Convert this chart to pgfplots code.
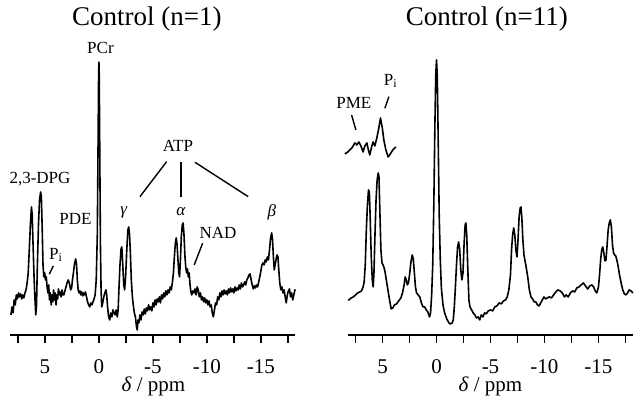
\documentclass[border=0pt]{standalone}
\usepackage{pgfplots}
\pgfplotsset{compat=1.18}
\usepackage{fontspec}
\setmainfont{Liberation Serif}

% one picture pixel = 0.5pt
\pgfplotsset{
  spec/.style={
    scale only axis, width=142.56pt, height=167.5pt,
    xmin=-18.2, xmax=8.2, ymin=0, ymax=335,
    x dir=reverse,
    axis x line=bottom, axis y line=none,
    axis line style={line width=1pt,-},
    xtick={-15,-10,-5,0,5},
    minor xtick={-17.5,-12.5,-7.5,-2.5,2.5,7.5},
    tick align=outside,
    major tick length=4pt, minor tick length=4pt,
    every tick/.style={black, line width=0.8pt},
    ticklabel style={font=\fontsize{10.5}{12}\selectfont},
    xticklabel style={yshift=-5pt},
    /pgf/number format/assume math mode=true,
    clip=false,
  },
  trace/.style={black, line width=0.8pt, line join=round},
}

\begin{document}
\begin{tikzpicture}
\begin{scope}[x=0.5pt,y=-0.5pt]
\useasboundingbox (0,0) rectangle (634,402);
\end{scope}

% ---- Control (n=1)
\begin{axis}[spec, at={(5.2pt,-167.5pt)}, anchor=south west]
\addplot[trace] coordinates {
(8.15,20) (8.05,28) (7.95,22) (7.85,35) (7.75,30) (7.65,40) (7.55,36) (7.45,42)
(7.35,38) (7.25,41) (7.15,36) (7.05,40) (6.95,37) (6.85,42) (6.75,45) (6.65,52)
(6.55,62) (6.45,85) (6.35,110) (6.25,128) (6.18,120) (6.1,90) (6.0,55) (5.92,35)
(5.85,20) (5.78,30) (5.7,70) (5.6,110) (5.5,135) (5.4,143) (5.33,138) (5.25,105)
(5.18,70) (5.1,58) (5.02,62) (4.95,55) (4.88,58) (4.8,48) (4.72,42) (4.65,50)
(4.58,35) (4.5,42) (4.42,30) (4.35,40) (4.27,33) (4.2,45) (4.12,35) (4.05,42)
(3.97,30) (3.9,40) (3.82,36) (3.75,46) (3.67,40) (3.6,43) (3.5,38) (3.42,45)
(3.35,40) (3.25,40) (3.15,44) (3.05,48) (2.95,52) (2.85,55) (2.78,53) (2.7,50)
(2.62,45) (2.53,47) (2.45,55) (2.35,63) (2.25,72) (2.15,76) (2.07,70) (2.0,55)
(1.92,45) (1.85,42) (1.76,44) (1.68,40) (1.6,43) (1.5,39) (1.42,42) (1.33,40)
(1.25,43) (1.15,38) (1.05,33) (0.95,30) (0.85,28) (0.75,32) (0.65,30) (0.55,33)
(0.45,36) (0.35,40) (0.25,55) (0.15,100) (0.08,190) (0.03,260) (0.0,273)
(-0.03,260) (-0.08,180) (-0.14,90) (-0.2,45) (-0.26,28) (-0.35,32) (-0.45,38)
(-0.55,42) (-0.65,45) (-0.72,40) (-0.8,28) (-0.9,18) (-1.0,15) (-1.1,22) (-1.2,18)
(-1.3,25) (-1.4,22) (-1.5,20) (-1.6,25) (-1.7,18) (-1.78,25) (-1.85,45) (-1.95,70)
(-2.05,86) (-2.12,88) (-2.2,72) (-2.3,50) (-2.38,45) (-2.48,60) (-2.58,85)
(-2.68,105) (-2.76,108) (-2.84,100) (-2.92,80) (-3.0,55) (-3.1,38) (-3.18,30)
(-3.28,22) (-3.38,18) (-3.48,8) (-3.55,5) (-3.62,15) (-3.7,12) (-3.8,20) (-3.9,15)
(-4.0,23) (-4.1,20) (-4.2,26) (-4.3,21) (-4.4,27) (-4.5,24) (-4.6,30) (-4.7,25)
(-4.8,28) (-4.9,24) (-5.0,32) (-5.1,28) (-5.2,35) (-5.3,30) (-5.4,36) (-5.5,33)
(-5.6,38) (-5.7,32) (-5.8,40) (-5.9,36) (-6.0,42) (-6.1,38) (-6.2,44) (-6.3,40)
(-6.4,45) (-6.5,42) (-6.6,48) (-6.7,45) (-6.8,52) (-6.9,62) (-7.0,80) (-7.08,92)
(-7.16,97) (-7.24,90) (-7.32,75) (-7.4,62) (-7.47,58) (-7.55,75) (-7.63,98)
(-7.72,110) (-7.8,112) (-7.88,100) (-7.96,80) (-8.04,68) (-8.12,62) (-8.2,66)
(-8.28,58) (-8.36,62) (-8.44,50) (-8.52,43) (-8.6,40) (-8.7,44) (-8.8,42) (-8.9,46)
(-9.0,40) (-9.1,48) (-9.2,45) (-9.3,38) (-9.4,42) (-9.5,35) (-9.6,38) (-9.7,33)
(-9.8,37) (-9.9,32) (-10.0,35) (-10.1,30) (-10.2,34) (-10.3,28) (-10.4,30)
(-10.5,22) (-10.6,18) (-10.7,25) (-10.8,32) (-10.9,30) (-11.0,38) (-11.1,35)
(-11.2,42) (-11.3,38) (-11.4,44) (-11.5,40) (-11.6,45) (-11.7,41) (-11.8,44)
(-11.9,40) (-12.0,46) (-12.1,42) (-12.2,47) (-12.3,43) (-12.4,46) (-12.5,42)
(-12.6,48) (-12.7,44) (-12.8,47) (-12.9,45) (-13.0,50) (-13.1,46) (-13.2,52)
(-13.3,48) (-13.4,50) (-13.5,53) (-13.6,50) (-13.7,55) (-13.8,57) (-13.9,60)
(-14.0,61) (-14.1,55) (-14.2,50) (-14.3,46) (-14.4,49) (-14.5,47) (-14.6,50)
(-14.7,48) (-14.8,53) (-14.9,58) (-15.0,64) (-15.1,70) (-15.2,72) (-15.3,70)
(-15.4,75) (-15.5,73) (-15.6,78) (-15.7,75) (-15.8,85) (-15.9,97) (-16.0,102)
(-16.08,95) (-16.16,78) (-16.24,65) (-16.32,70) (-16.4,75) (-16.5,80) (-16.58,78)
(-16.66,65) (-16.75,52) (-16.85,45) (-16.95,48) (-17.05,42) (-17.15,45)
(-17.25,38) (-17.35,32) (-17.45,40) (-17.55,44) (-17.65,46) (-17.75,38)
(-17.85,42) (-17.95,35) (-18.05,40) (-18.15,45) (-18.2,44)
};
\end{axis}

% ---- Control (n=11)
\begin{axis}[spec, at={(174.05pt,-167.5pt)}, anchor=south west]
\addplot[trace] coordinates {
(8.2,35) (8.1,35) (7.9,37) (7.7,38) (7.5,40) (7.3,42) (7.1,43) (6.95,44) (6.8,48)
(6.7,53) (6.6,70) (6.5,105) (6.4,130) (6.3,145) (6.22,143) (6.15,120) (6.05,80)
(5.95,55) (5.87,48) (5.8,60) (5.7,100) (5.6,135) (5.5,155) (5.4,162) (5.33,158)
(5.25,125) (5.15,85) (5.05,72) (4.95,70) (4.85,67) (4.75,62) (4.65,55) (4.5,45)
(4.35,35) (4.2,26) (4.05,27) (3.9,30) (3.7,31) (3.5,34) (3.3,37) (3.15,42)
(3.0,50) (2.9,58) (2.8,55) (2.7,50) (2.6,52) (2.5,60) (2.38,72) (2.25,80)
(2.15,76) (2.05,62) (1.95,48) (1.85,42) (1.7,40) (1.55,38) (1.4,32) (1.25,28)
(1.1,28) (0.95,25) (0.8,23) (0.65,18) (0.55,22) (0.45,40) (0.35,70) (0.25,130)
(0.15,210) (0.07,260) (0.0,275) (-0.07,260) (-0.15,200) (-0.25,120) (-0.35,75)
(-0.45,47) (-0.6,30) (-0.75,22) (-0.95,16) (-1.15,12) (-1.3,11) (-1.45,12)
(-1.55,15) (-1.65,28) (-1.75,48) (-1.85,70) (-1.95,88) (-2.05,93) (-2.15,85)
(-2.25,65) (-2.35,55) (-2.45,62) (-2.55,90) (-2.65,110) (-2.72,112) (-2.8,100)
(-2.9,65) (-3.0,35) (-3.1,28) (-3.25,25) (-3.4,22) (-3.55,20) (-3.7,17)
(-3.85,18) (-4.0,15) (-4.15,20) (-4.3,18) (-4.45,22) (-4.6,21) (-4.8,24)
(-5.0,25) (-5.2,24) (-5.4,28) (-5.6,29) (-5.8,32) (-6.0,31) (-6.2,34) (-6.4,35)
(-6.55,38) (-6.7,45) (-6.85,60) (-6.95,85) (-7.05,100) (-7.15,107) (-7.25,100)
(-7.35,85) (-7.45,78) (-7.55,95) (-7.65,118) (-7.75,127) (-7.82,128) (-7.9,118)
(-8.0,95) (-8.1,80) (-8.2,74) (-8.3,68) (-8.45,58) (-8.6,45) (-8.75,38)
(-8.9,36) (-9.05,33) (-9.2,33) (-9.35,30) (-9.5,29) (-9.65,32) (-9.8,35)
(-9.95,38) (-10.1,36) (-10.25,37) (-10.45,38) (-10.65,37) (-10.85,40)
(-11.05,43) (-11.25,45) (-11.45,44) (-11.65,42) (-11.85,38) (-12.0,40)
(-12.2,38) (-12.4,42) (-12.6,44) (-12.8,43) (-13.0,47) (-13.2,48) (-13.4,50)
(-13.6,52) (-13.8,49) (-14.0,46) (-14.2,49) (-14.4,50) (-14.55,48) (-14.7,44)
(-14.85,42) (-15.0,48) (-15.1,60) (-15.2,75) (-15.3,85) (-15.4,88) (-15.5,82)
(-15.6,74) (-15.7,75) (-15.8,90) (-15.9,105) (-16.0,112) (-16.1,115) (-16.2,108)
(-16.3,90) (-16.4,82) (-16.5,80) (-16.6,79) (-16.7,75) (-16.8,70) (-16.95,60)
(-17.1,52) (-17.25,45) (-17.4,41) (-17.55,40) (-17.7,42) (-17.85,45) (-18.0,44)
(-18.2,42)
};
% expanded PME / Pi region
\addplot[trace] coordinates {
(8.49,181) (8.21,183) (8.03,185) (7.84,187) (7.56,192) (7.38,190) (7.19,193)
(7.0,189) (6.8,183) (6.64,189) (6.45,192) (6.31,185) (6.18,180) (5.99,189)
(5.87,193) (5.71,189) (5.53,197) (5.34,207) (5.19,217) (5.02,207) (4.88,195)
(4.69,185) (4.48,178) (4.28,181) (4.05,185) (3.77,188)
};
\end{axis}

% ---- labels (picture pixel coordinates)
\begin{scope}[x=0.5pt,y=-0.5pt]
\node[font=\fontsize{13.5}{15}\selectfont] at (147,19) {Control (n=1)};
\node[font=\fontsize{13.5}{15}\selectfont] at (487,19) {Control (n=11)};
\begin{scope}[every node/.style={font=\fontsize{10.5}{12}\selectfont}]
\node at (153.5,387) {\textit{δ} / ppm};
\node at (490.5,387) {\textit{δ} / ppm};
\end{scope}
\begin{scope}[every node/.style={font=\fontsize{8.5}{10}\selectfont, inner sep=0pt}]
\node at (100.5,48) {PCr};
\node at (178,146) {ATP};
\node at (40,179) {2,3-DPG};
\node at (75.5,219) {PDE};
\node at (56,255) {P\textsubscript{i}};
\node at (124,212) {\textit{γ}};
\node at (181,212) {\textit{α}};
\node at (272,212) {\textit{β}};
\node at (218,233) {NAD};
\node at (354,102.5) {PME};
\node at (391,81) {P\textsubscript{i}};
\end{scope}
\begin{scope}[line width=0.7pt]
\draw (166.7,161.7) -- (140,196.7);
\draw (181,161.7) -- (181,196.7);
\draw (195,162.3) -- (248.3,196.7);
\draw (53.3,266) -- (49.3,274.3);
\draw (202.7,243.3) -- (194.3,265);
\draw (351.7,115) -- (356,130);
\draw (389,96.7) -- (385,108.3);
\end{scope}
\end{scope}
\end{tikzpicture}
\end{document}
